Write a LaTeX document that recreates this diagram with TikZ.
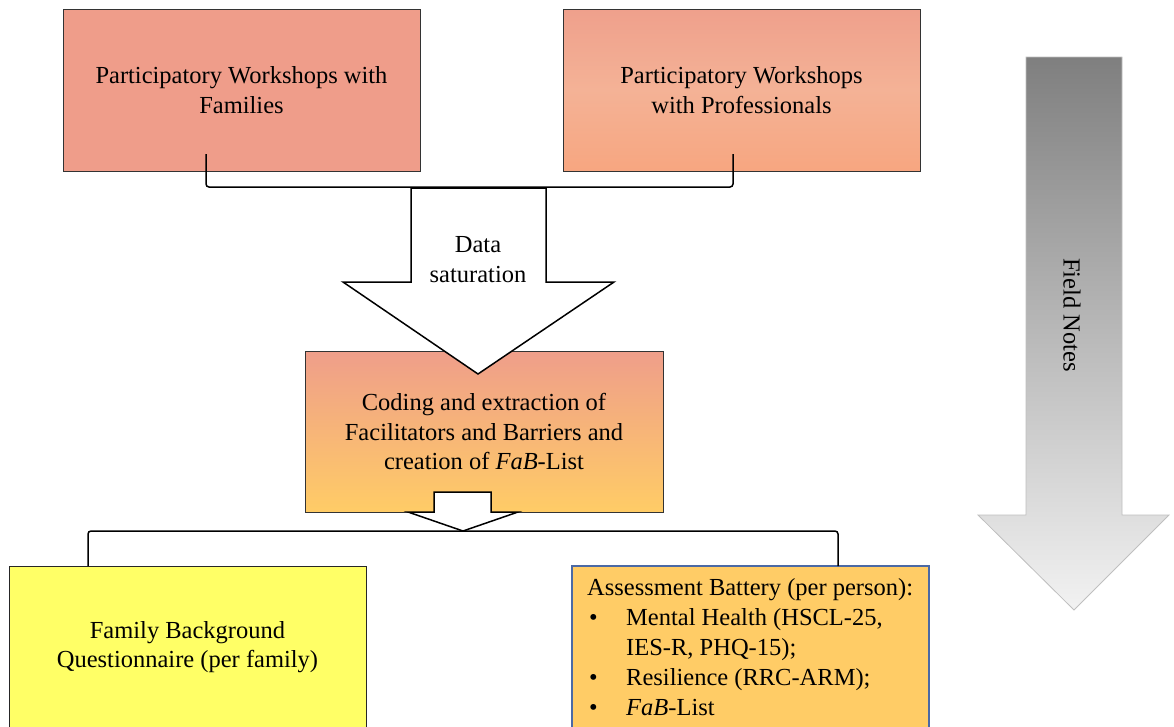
\documentclass[tikz,border=0pt]{standalone}
\usepackage{fontspec}
\setmainfont{Liberation Serif}
\usetikzlibrary{calc}
\definecolor{salmon}{RGB}{239,157,138}
\definecolor{ptop}{RGB}{239,160,140}
\definecolor{pmid}{RGB}{244,178,150}
\definecolor{pbot}{RGB}{247,166,128}
\definecolor{mtop}{RGB}{239,158,138}
\definecolor{mbot}{RGB}{255,204,102}
\definecolor{fyel}{RGB}{255,255,102}
\definecolor{aorg}{RGB}{255,204,102}
\definecolor{aborder}{RGB}{75,105,165}
\definecolor{gtop}{RGB}{127,127,127}
\definecolor{gbot}{RGB}{242,242,242}
\pgfdeclareverticalshading{profshade}{100bp}{color(0bp)=(pbot); color(25bp)=(pbot); color(50bp)=(pmid); color(75bp)=(ptop); color(100bp)=(ptop)}
\tikzset{
  every node/.style={font=\fontsize{24.5}{29.5}\selectfont, text=black},
  box/.style={draw=black!80, line width=0.9pt, inner sep=0pt, outer sep=0pt,
    anchor=north west, minimum width=357pt, minimum height=162pt, align=center},
  conn/.style={draw=black, line width=1.5pt, rounded corners=3pt},
  blockarrow/.style={draw=black, line width=1.5pt, fill=white, line join=miter},
  fieldarrow/.style={draw=black!25, line width=0.8pt, top color=gtop, bottom color=gbot},
  linetext/.style={anchor=base west, inner sep=0pt},
}
\begin{document}
\begin{tikzpicture}[x=1pt, y=-1pt]
\clip (0,0) rectangle (1174,726);
% top boxes
\node[box, fill=salmon] (fam) at (63,9) {Participatory Workshops with\\Families};
\node[box, shading=profshade] (prof) at (563,9) {Participatory Workshops\\with Professionals};
% bracket from top boxes
\draw[conn] ($(fam.south)+(-35.5,-17)$) |- ($(prof.south)+(-8.5,16)$) -- ($(prof.south)+(-8.5,-17)$);
% middle box
\node[box, minimum width=358pt, minimum height=161pt, top color=mtop, bottom color=mbot] (code) at (305,351)
  {Coding and extraction of\\Facilitators and Barriers and\\creation of \textit{FaB}-List};
% big block arrow
\draw[blockarrow] (411,188) -- (546,188) -- (546,282) -- (614,282) -- (478,374) -- (343,282) -- (411,282) -- cycle;
\node[align=center] (sat) at (478,259.5) {Data\\saturation};
% small block arrow
\draw[blockarrow] (434,492) -- (491,492) -- (491,512) -- (518,512) -- (463,531) -- (408,512) -- (434,512) -- cycle;
% bottom boxes
\node[box, fill=fyel, draw=black!85] (fbq) at (9,566) {Family Background\\Questionnaire (per family)};
\node[box, fill=aorg, draw=aborder, line width=1.2pt, minimum height=170pt] (assess) at (572,566) {};
\node[linetext] (l1) at (587,595) {Assessment Battery (per person):};
\node[linetext] (b1) at (589,625) {\textbullet};
\node[linetext] (l2) at (626,625) {Mental Health (HSCL-25,};
\node[linetext] (l3) at (626,655) {IES-R, PHQ-15);};
\node[linetext] (b2) at (589,685) {\textbullet};
\node[linetext] (l4) at (626,685) {Resilience (RRC-ARM);};
\node[linetext] (b3) at (589,715) {\textbullet};
\node[linetext] (l5) at (626,715) {\textit{FaB}-List};
% bracket to bottom boxes
\draw[conn] ($(fbq.north)+(-99.5,0)$) |- ($(assess.north)+(87.5,-35)$) -- ($(assess.north)+(87.5,0)$);
% field notes arrow
\draw[fieldarrow] (1026,57) -- (1122,57) -- (1122,515) -- (1169,515) -- (1074,610) -- (978,515) -- (1026,515) -- cycle;
\node[rotate=-90] (fn) at (1072,315) {Field Notes};
\end{tikzpicture}
\end{document}
